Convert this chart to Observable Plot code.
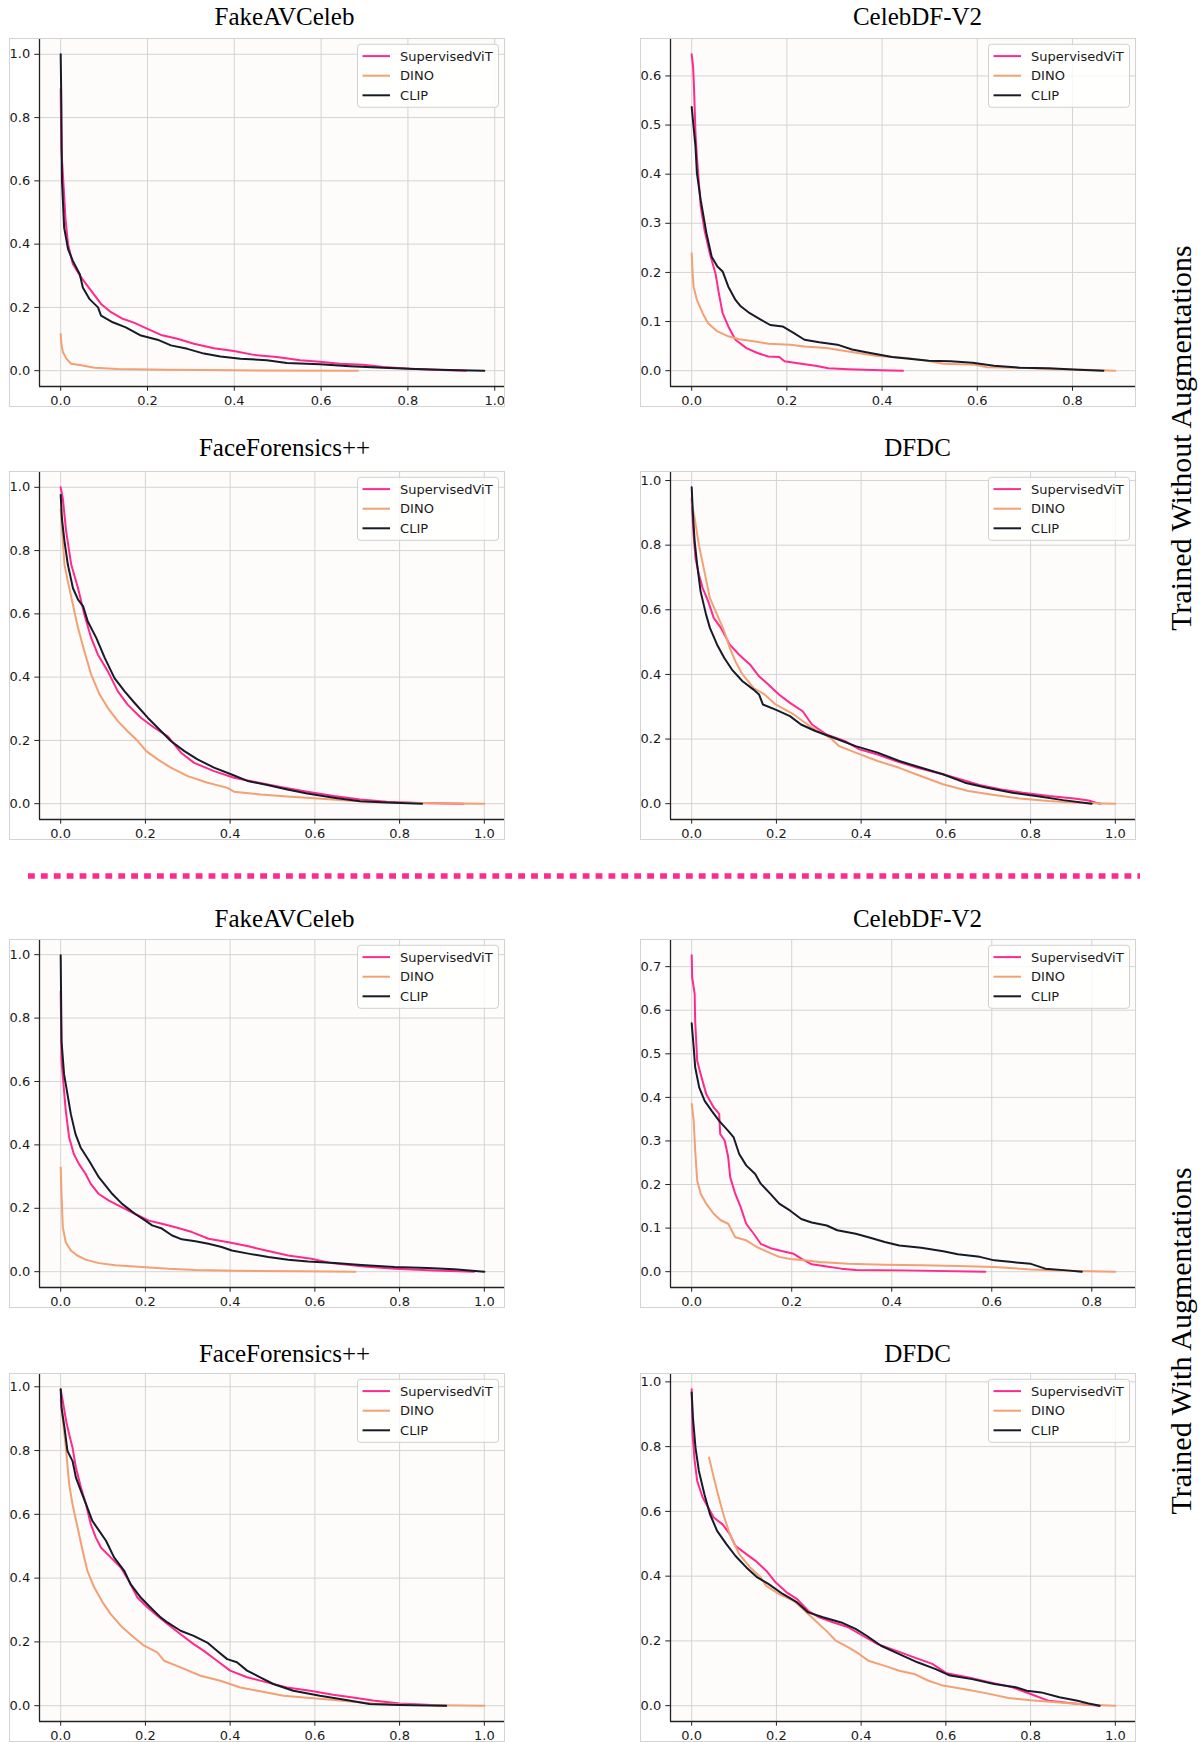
<!DOCTYPE html>
<html>
<head>
<meta charset="utf-8">
<script src="https://cdn.jsdelivr.net/npm/d3@7"></script>
<script src="https://cdn.jsdelivr.net/npm/@observablehq/plot@0.6"></script>
<style>
  body { margin: 0; background: #fff; }
  #page { position: relative; width: 1203px; height: 1742px; overflow: hidden; background: #fff; }
  .panel { position: absolute; }
  .panel svg { display: block; outline: 1px solid #d3d3d3; outline-offset: -1px; }
  .panel svg text { font-size: 13px; font-family: 'DejaVu Sans', sans-serif; }
  #overlay { position: absolute; left: 0; top: 0; pointer-events: none; }
</style>
</head>
<body>
<div id="page"></div>
<script>
// ---- categories ----
const models = ["SupervisedViT", "DINO", "CLIP"];
const modelColors = ["#ff2a8c", "#f2a074", "#161b27"];
const datasets = ["FakeAVCeleb", "CelebDF-V2", "FaceForensics++", "DFDC"];
const rowLabels = ["Trained Without Augmentations", "Trained With Augmentations"];
const xTickValues = [0, 0.2, 0.4, 0.6, 0.8, 1.0];
const yTickCoarse = [0, 0.2, 0.4, 0.6, 0.8, 1.0];
const yTickFine = [0, 0.1, 0.2, 0.3, 0.4, 0.5, 0.6, 0.7];

// ---- curves: trained without augmentations ----
const woFakeAVSup = [[0,0.89],[0.0015,0.70],[0.006,0.60],[0.011,0.48],[0.017,0.40],[0.028,0.337],[0.047,0.295],[0.070,0.253],[0.093,0.211],[0.116,0.185],[0.143,0.164],[0.170,0.151],[0.20,0.132],[0.231,0.113],[0.269,0.101],[0.307,0.085],[0.353,0.071],[0.399,0.062],[0.445,0.050],[0.498,0.043],[0.552,0.033],[0.597,0.028],[0.643,0.022],[0.697,0.019],[0.743,0.012],[0.804,0.006],[0.857,0.003],[0.934,0.0]];
const woFakeAVDino = [[0,0.116],[0.0015,0.085],[0.005,0.059],[0.013,0.038],[0.024,0.022],[0.047,0.017],[0.078,0.009],[0.131,0.005],[0.246,0.003],[0.40,0.001],[0.685,0.0]];
const woFakeAVClip = [[0,1.0],[0.0015,0.85],[0.003,0.60],[0.008,0.452],[0.017,0.384],[0.028,0.347],[0.044,0.305],[0.051,0.263],[0.066,0.227],[0.086,0.200],[0.093,0.174],[0.120,0.153],[0.150,0.137],[0.185,0.111],[0.223,0.098],[0.254,0.080],[0.292,0.069],[0.330,0.054],[0.368,0.045],[0.414,0.038],[0.475,0.033],[0.521,0.024],[0.597,0.020],[0.666,0.014],[0.743,0.009],[0.819,0.005],[0.895,0.002],[0.976,0.0]];

const woCelebSup = [[0,0.644],[0.003,0.618],[0.005,0.574],[0.008,0.483],[0.011,0.435],[0.019,0.334],[0.027,0.286],[0.038,0.239],[0.050,0.198],[0.057,0.158],[0.065,0.117],[0.077,0.090],[0.092,0.063],[0.115,0.046],[0.138,0.036],[0.161,0.029],[0.184,0.028],[0.195,0.019],[0.230,0.014],[0.260,0.010],[0.287,0.005],[0.329,0.003],[0.398,0.001],[0.444,0.0]];
const woCelebDino = [[0,0.239],[0.002,0.198],[0.004,0.171],[0.011,0.144],[0.023,0.117],[0.034,0.097],[0.054,0.080],[0.077,0.070],[0.100,0.064],[0.130,0.060],[0.161,0.055],[0.207,0.053],[0.237,0.049],[0.283,0.046],[0.329,0.039],[0.390,0.030],[0.452,0.026],[0.490,0.021],[0.528,0.014],[0.597,0.012],[0.620,0.007],[0.697,0.006],[0.758,0.003],[0.827,0.002],[0.890,0.0]];
const woCelebClip = [[0,0.537],[0.004,0.496],[0.008,0.456],[0.011,0.402],[0.019,0.347],[0.031,0.280],[0.042,0.232],[0.054,0.212],[0.065,0.202],[0.077,0.171],[0.092,0.144],[0.103,0.131],[0.122,0.117],[0.145,0.104],[0.165,0.093],[0.191,0.090],[0.214,0.077],[0.237,0.063],[0.268,0.058],[0.306,0.053],[0.337,0.043],[0.375,0.036],[0.421,0.028],[0.452,0.025],[0.498,0.020],[0.544,0.019],[0.590,0.016],[0.635,0.010],[0.689,0.006],[0.750,0.005],[0.812,0.002],[0.865,0.0]];

const woFFSup = [[0,1.0],[0.005,0.965],[0.013,0.86],[0.025,0.755],[0.041,0.681],[0.056,0.597],[0.072,0.524],[0.088,0.471],[0.111,0.419],[0.135,0.355],[0.158,0.313],[0.190,0.271],[0.221,0.240],[0.253,0.213],[0.284,0.161],[0.315,0.129],[0.362,0.103],[0.409,0.082],[0.456,0.069],[0.519,0.053],[0.582,0.038],[0.645,0.024],[0.707,0.013],[0.770,0.006],[0.849,0.002],[0.951,0.0]];
const woFFDino = [[0,0.93],[0.009,0.755],[0.017,0.702],[0.029,0.629],[0.041,0.555],[0.056,0.482],[0.072,0.408],[0.092,0.345],[0.111,0.303],[0.135,0.261],[0.158,0.229],[0.182,0.198],[0.202,0.166],[0.229,0.140],[0.260,0.114],[0.300,0.087],[0.347,0.066],[0.394,0.050],[0.409,0.038],[0.472,0.029],[0.535,0.023],[0.598,0.017],[0.676,0.010],[0.762,0.004],[0.880,0.001],[1.0,0.0]];
const woFFClip = [[0,0.976],[0.003,0.90],[0.009,0.829],[0.017,0.755],[0.029,0.681],[0.041,0.645],[0.053,0.624],[0.064,0.576],[0.084,0.524],[0.104,0.461],[0.127,0.397],[0.151,0.355],[0.174,0.319],[0.206,0.271],[0.229,0.240],[0.260,0.198],[0.292,0.166],[0.323,0.140],[0.362,0.114],[0.402,0.093],[0.441,0.072],[0.488,0.059],[0.535,0.045],[0.582,0.032],[0.645,0.019],[0.707,0.008],[0.786,0.003],[0.853,0.0]];

const woDFDCSup = [[0,0.945],[0.004,0.842],[0.009,0.760],[0.017,0.709],[0.026,0.667],[0.039,0.626],[0.052,0.575],[0.069,0.544],[0.090,0.492],[0.112,0.461],[0.138,0.430],[0.159,0.394],[0.181,0.369],[0.206,0.338],[0.232,0.312],[0.262,0.286],[0.284,0.245],[0.318,0.214],[0.361,0.194],[0.396,0.168],[0.439,0.152],[0.482,0.132],[0.533,0.111],[0.593,0.091],[0.636,0.075],[0.679,0.058],[0.731,0.044],[0.782,0.034],[0.843,0.024],[0.903,0.016],[0.937,0.010],[0.954,0.003],[0.965,0.0]];
const woDFDCDino = [[0,0.93],[0.007,0.884],[0.017,0.801],[0.030,0.719],[0.043,0.636],[0.060,0.585],[0.077,0.533],[0.090,0.482],[0.103,0.441],[0.120,0.400],[0.146,0.358],[0.172,0.338],[0.198,0.307],[0.241,0.276],[0.284,0.235],[0.327,0.204],[0.348,0.178],[0.387,0.158],[0.439,0.132],[0.490,0.111],[0.542,0.085],[0.593,0.060],[0.653,0.039],[0.714,0.027],[0.774,0.016],[0.843,0.008],[0.911,0.003],[1.0,0.0]];
const woDFDCClip = [[0,0.979],[0.003,0.894],[0.007,0.812],[0.013,0.739],[0.021,0.657],[0.034,0.585],[0.043,0.544],[0.060,0.492],[0.077,0.451],[0.095,0.415],[0.120,0.379],[0.146,0.353],[0.159,0.338],[0.168,0.307],[0.198,0.291],[0.232,0.271],[0.258,0.245],[0.292,0.225],[0.335,0.204],[0.387,0.178],[0.439,0.158],[0.490,0.132],[0.542,0.111],[0.593,0.091],[0.645,0.065],[0.697,0.049],[0.757,0.034],[0.817,0.023],[0.877,0.011],[0.944,0.0]];

// ---- curves: trained with augmentations ----
const wFakeAVSup = [[0,0.885],[0.002,0.665],[0.006,0.602],[0.012,0.507],[0.020,0.423],[0.031,0.371],[0.043,0.340],[0.059,0.308],[0.071,0.277],[0.090,0.245],[0.114,0.224],[0.145,0.203],[0.176,0.182],[0.208,0.161],[0.239,0.151],[0.271,0.140],[0.310,0.125],[0.349,0.104],[0.396,0.093],[0.443,0.080],[0.490,0.065],[0.537,0.051],[0.592,0.041],[0.639,0.027],[0.710,0.017],[0.788,0.009],[0.882,0.004],[0.976,0.0]];
const wFakeAVDino = [[0,0.329],[0.002,0.245],[0.005,0.140],[0.012,0.093],[0.024,0.067],[0.039,0.051],[0.059,0.038],[0.090,0.027],[0.129,0.020],[0.192,0.015],[0.255,0.009],[0.318,0.005],[0.412,0.003],[0.569,0.001],[0.696,0.0]];
const wFakeAVClip = [[0,0.998],[0.002,0.727],[0.008,0.623],[0.016,0.560],[0.024,0.497],[0.035,0.434],[0.047,0.392],[0.067,0.350],[0.090,0.298],[0.122,0.245],[0.145,0.214],[0.176,0.182],[0.200,0.161],[0.216,0.146],[0.239,0.136],[0.263,0.114],[0.286,0.102],[0.318,0.096],[0.349,0.088],[0.380,0.078],[0.404,0.067],[0.443,0.057],[0.490,0.046],[0.537,0.038],[0.584,0.032],[0.647,0.027],[0.710,0.021],[0.788,0.015],[0.867,0.012],[0.929,0.008],[1.0,0.0]];

const wCelebSup = [[0,0.726],[0.001,0.675],[0.006,0.637],[0.007,0.576],[0.011,0.484],[0.018,0.453],[0.029,0.408],[0.044,0.377],[0.055,0.362],[0.057,0.316],[0.066,0.301],[0.073,0.263],[0.077,0.217],[0.087,0.179],[0.098,0.148],[0.109,0.110],[0.124,0.087],[0.138,0.064],[0.160,0.053],[0.182,0.047],[0.204,0.041],[0.219,0.030],[0.240,0.017],[0.270,0.012],[0.299,0.007],[0.328,0.004],[0.423,0.003],[0.587,0.0]];
const wCelebDino = [[0,0.385],[0.004,0.347],[0.007,0.278],[0.011,0.209],[0.018,0.179],[0.029,0.156],[0.044,0.133],[0.058,0.118],[0.073,0.110],[0.087,0.079],[0.109,0.072],[0.131,0.056],[0.153,0.045],[0.175,0.034],[0.197,0.029],[0.226,0.026],[0.255,0.022],[0.313,0.018],[0.386,0.016],[0.459,0.015],[0.532,0.013],[0.605,0.011],[0.678,0.005],[0.750,0.002],[0.847,0.0]];
const wCelebClip = [[0,0.570],[0.004,0.515],[0.007,0.469],[0.015,0.423],[0.026,0.392],[0.040,0.369],[0.055,0.346],[0.073,0.323],[0.084,0.308],[0.095,0.270],[0.109,0.244],[0.127,0.224],[0.138,0.202],[0.157,0.179],[0.175,0.156],[0.197,0.140],[0.219,0.121],[0.240,0.113],[0.270,0.106],[0.291,0.095],[0.328,0.087],[0.357,0.078],[0.386,0.068],[0.415,0.060],[0.459,0.055],[0.503,0.047],[0.532,0.040],[0.576,0.034],[0.605,0.026],[0.641,0.022],[0.678,0.018],[0.707,0.007],[0.750,0.003],[0.780,0.0]];

const wFFSup = [[0,0.992],[0.005,0.955],[0.013,0.892],[0.020,0.851],[0.028,0.809],[0.036,0.746],[0.048,0.683],[0.060,0.631],[0.071,0.569],[0.083,0.527],[0.095,0.496],[0.118,0.465],[0.142,0.433],[0.161,0.391],[0.181,0.339],[0.205,0.308],[0.228,0.282],[0.252,0.256],[0.283,0.224],[0.314,0.193],[0.338,0.172],[0.369,0.141],[0.400,0.110],[0.440,0.089],[0.487,0.073],[0.534,0.057],[0.589,0.047],[0.643,0.034],[0.690,0.026],[0.737,0.016],[0.800,0.007],[0.863,0.003],[0.910,0.0]];
const wFFDino = [[0,0.96],[0.013,0.799],[0.020,0.694],[0.028,0.631],[0.040,0.558],[0.052,0.485],[0.063,0.423],[0.079,0.371],[0.099,0.324],[0.118,0.287],[0.146,0.245],[0.173,0.214],[0.197,0.188],[0.228,0.167],[0.244,0.141],[0.283,0.120],[0.330,0.094],[0.377,0.078],[0.424,0.057],[0.471,0.045],[0.526,0.031],[0.589,0.024],[0.659,0.016],[0.737,0.007],[0.839,0.002],[1.0,0.0]];
const wFFClip = [[0,0.992],[0.002,0.934],[0.009,0.872],[0.016,0.799],[0.028,0.767],[0.036,0.715],[0.048,0.673],[0.060,0.631],[0.075,0.579],[0.091,0.548],[0.107,0.517],[0.126,0.465],[0.150,0.423],[0.165,0.381],[0.189,0.339],[0.212,0.308],[0.236,0.277],[0.252,0.261],[0.283,0.235],[0.314,0.219],[0.346,0.198],[0.369,0.172],[0.393,0.146],[0.416,0.136],[0.440,0.110],[0.471,0.089],[0.502,0.068],[0.549,0.047],[0.612,0.031],[0.674,0.018],[0.729,0.005],[0.800,0.002],[0.910,0.0]];

const wDFDCSup = [[0,0.977],[0.002,0.838],[0.007,0.756],[0.013,0.694],[0.026,0.643],[0.039,0.612],[0.052,0.581],[0.073,0.560],[0.090,0.530],[0.103,0.494],[0.129,0.468],[0.150,0.448],[0.176,0.417],[0.198,0.381],[0.224,0.350],[0.249,0.329],[0.275,0.293],[0.301,0.273],[0.335,0.257],[0.370,0.242],[0.404,0.216],[0.439,0.190],[0.482,0.170],[0.525,0.149],[0.568,0.129],[0.602,0.100],[0.654,0.087],[0.705,0.072],[0.757,0.057],[0.800,0.036],[0.843,0.015],[0.903,0.007],[0.963,0.0]];
const wDFDCDino = [[0.041,0.766],[0.052,0.705],[0.064,0.643],[0.077,0.581],[0.090,0.530],[0.112,0.468],[0.138,0.427],[0.163,0.396],[0.176,0.370],[0.206,0.345],[0.241,0.324],[0.267,0.293],[0.292,0.262],[0.318,0.231],[0.340,0.201],[0.370,0.180],[0.396,0.159],[0.417,0.139],[0.456,0.123],[0.490,0.108],[0.525,0.098],[0.559,0.077],[0.593,0.062],[0.645,0.051],[0.697,0.038],[0.748,0.024],[0.800,0.017],[0.868,0.010],[0.929,0.004],[1.0,0.0]];
const wDFDCClip = [[0,0.967],[0.003,0.889],[0.009,0.797],[0.017,0.725],[0.030,0.653],[0.043,0.592],[0.060,0.540],[0.082,0.499],[0.103,0.463],[0.129,0.427],[0.155,0.396],[0.181,0.376],[0.215,0.345],[0.249,0.319],[0.275,0.288],[0.310,0.273],[0.353,0.257],[0.387,0.237],[0.413,0.216],[0.447,0.185],[0.490,0.159],[0.533,0.134],[0.576,0.113],[0.610,0.093],[0.662,0.082],[0.714,0.067],[0.765,0.057],[0.791,0.046],[0.825,0.041],[0.868,0.026],[0.911,0.015],[0.937,0.007],[0.963,0.0]];

// panels in reading order: [row, col, title, curves per model]
const panels = [
  [0, 0, datasets[0], [woFakeAVSup, woFakeAVDino, woFakeAVClip]],
  [0, 1, datasets[1], [woCelebSup, woCelebDino, woCelebClip]],
  [1, 0, datasets[2], [woFFSup, woFFDino, woFFClip]],
  [1, 1, datasets[3], [woDFDCSup, woDFDCDino, woDFDCClip]],
  [2, 0, datasets[0], [wFakeAVSup, wFakeAVDino, wFakeAVClip]],
  [2, 1, datasets[1], [wCelebSup, wCelebDino, wCelebClip]],
  [3, 0, datasets[2], [wFFSup, wFFDino, wFFClip]],
  [3, 1, datasets[3], [wDFDCSup, wDFDCDino, wDFDCClip]]
];

// ---- layout ----
const PANEL_W = 496, PANEL_H = 369, M_LEFT = 30, M_BOTTOM = 21;
const colLeft = [9, 640];
const rowTop = [38, 471, 939, 1373];
const titleCenter = [284.5, 917.5];
const titleBaseline = [25, 456, 927, 1362];
const FONT_TICK = "'DejaVu Sans', sans-serif";
const FONT_SERIF = "'Liberation Serif', 'Times New Roman', serif";

const page = document.getElementById("page");

// matplotlib-style autoscale: data extent plus 5% on each side
function padded(values) {
  const [lo, hi] = d3.extent(values);
  const r = hi - lo;
  return [lo - 0.05 * r, hi + 0.05 * r];
}

function drawPanel(curves) {
  const rows = [];
  curves.forEach((pts, i) => pts.forEach(([x, y]) => rows.push({model: models[i], x, y})));
  const xd = padded(rows.map(d => d.x));
  const yd = padded(rows.map(d => d.y));
  const xt = xTickValues.filter(v => v >= xd[0] && v <= xd[1] + 1e-9);
  const yt = (yd[1] < 0.9 ? yTickFine : yTickCoarse).filter(v => v >= yd[0] && v <= yd[1] + 1e-9);
  const fmt = d3.format(".1f");
  return Plot.plot({
    width: PANEL_W,
    height: PANEL_H,
    marginLeft: M_LEFT, marginTop: 0, marginRight: 0, marginBottom: M_BOTTOM,
    x: {domain: xd},
    y: {domain: yd},
    color: {domain: models, range: modelColors},
    style: {background: "#ffffff", color: "#222", fontFamily: FONT_TICK, fontSize: "13px", overflow: "visible"},
    marks: [
      Plot.frame({fill: "#fdfcfa", stroke: "none"}),
      Plot.gridX(xt, {stroke: "#d4d4d4", strokeOpacity: 1, strokeWidth: 1}),
      Plot.gridY(yt, {stroke: "#d4d4d4", strokeOpacity: 1, strokeWidth: 1}),
      Plot.axisX(xt, {tickFormat: fmt, tickSize: 4.7, tickPadding: 4.2, label: null, fontSize: 13, stroke: "#222", fill: "#1a1a1a"}),
      Plot.axisY(yt, {tickFormat: fmt, tickSize: 4.7, tickPadding: 4.6, label: null, fontSize: 13, stroke: "#222", fill: "#1a1a1a"}),
      Plot.line(rows, {x: "x", y: "y", z: "model", stroke: "model", strokeWidth: 2, strokeLinejoin: "round"}),
      Plot.ruleX([xd[0]], {stroke: "#222", strokeWidth: 1.3}),
      Plot.ruleY([yd[0]], {stroke: "#222", strokeWidth: 1.3})
    ]
  });
}

for (const [r, c, , curves] of panels) {
  const holder = document.createElement("div");
  holder.className = "panel";
  holder.style.left = colLeft[c] + "px";
  holder.style.top = rowTop[r] + "px";
  holder.appendChild(drawPanel(curves));
  page.appendChild(holder);
}

// ---- titles, legends, separator and row labels ----
const overlay = d3.select(page).append("svg")
  .attr("id", "overlay")
  .attr("width", 1203).attr("height", 1742);

for (const [r, c, title] of panels) {
  overlay.append("text")
    .attr("x", titleCenter[c]).attr("y", titleBaseline[r])
    .attr("text-anchor", "middle")
    .attr("font-family", FONT_SERIF).attr("font-size", 25).attr("fill", "#000")
    .text(title);

  // legend box in the upper-right corner of the axes
  const axRight = colLeft[c] + PANEL_W;
  const lg = overlay.append("g")
    .attr("transform", `translate(${axRight - 6.5 - 141},${rowTop[r] + 6.3})`);
  lg.append("rect")
    .attr("width", 141).attr("height", 63).attr("rx", 3)
    .attr("fill", "#ffffff").attr("fill-opacity", 0.8)
    .attr("stroke", "#d0d0d0").attr("stroke-width", 1);
  models.forEach((m, i) => {
    const cy = 11.8 + i * 19.6;
    lg.append("line")
      .attr("x1", 5).attr("x2", 32.5).attr("y1", cy).attr("y2", cy)
      .attr("stroke", modelColors[i]).attr("stroke-width", 2);
    lg.append("text")
      .attr("x", 42.6).attr("y", cy).attr("dy", "0.36em")
      .attr("font-family", FONT_TICK).attr("font-size", 13).attr("fill", "#1a1a1a")
      .text(m);
  });
}

// pink dotted separator between the two training settings
overlay.append("line")
  .attr("x1", 28).attr("x2", 1140).attr("y1", 876).attr("y2", 876)
  .attr("stroke", "#ff2a8c").attr("stroke-width", 5.5)
  .attr("stroke-dasharray", "6.8 6.1");

// vertical row labels on the right
[[438, rowLabels[0]], [1341, rowLabels[1]]].forEach(([cy, label]) => {
  overlay.append("text")
    .attr("transform", `translate(1191,${cy}) rotate(-90)`)
    .attr("text-anchor", "middle")
    .attr("font-family", FONT_SERIF).attr("font-size", 30).attr("fill", "#000")
    .text(label);
});
</script>
</body>
</html>
